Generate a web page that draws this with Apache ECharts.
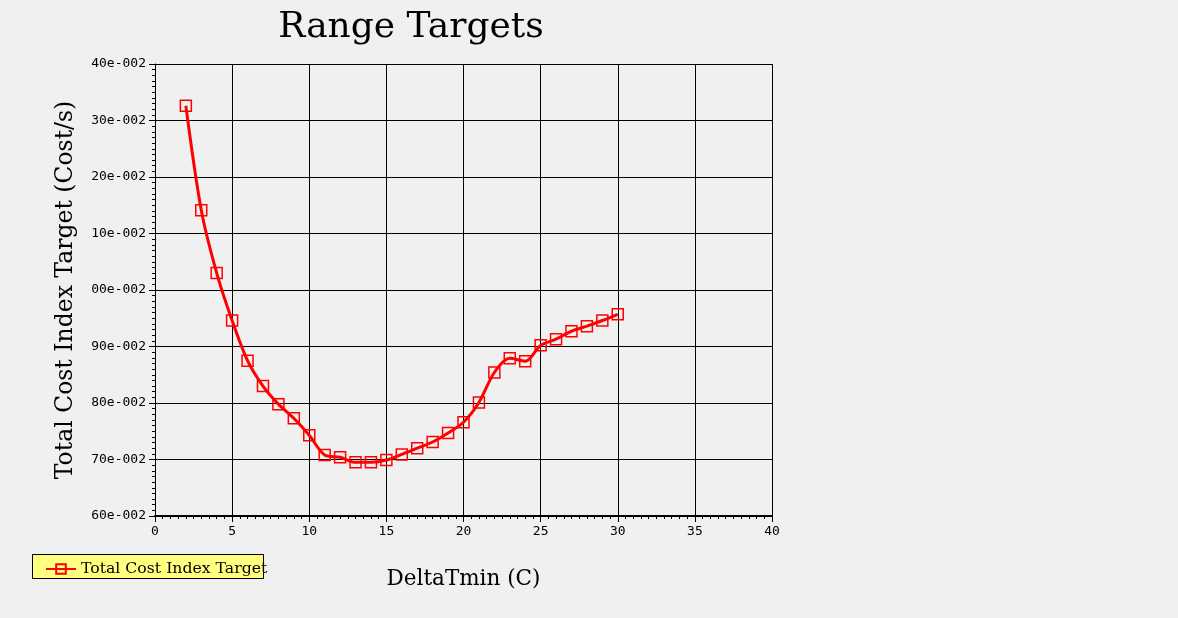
<!DOCTYPE html>
<html>
<head>
<meta charset="utf-8">
<script src="https://cdn.jsdelivr.net/npm/echarts@6/dist/echarts.min.js"></script>
<style>
html,body{margin:0;padding:0;background:#f0f0f0;}
#chart{width:1178px;height:618px;}
</style>
</head>
<body>
<div id="chart"></div>
<script>
// DeltaTmin (C)
const deltaTmin = [2,3,4,5,6,7,8,9,10,11,12,13,14,15,16,17,18,19,20,21,22,23,24,25,26,27,28,29,30];
// Total Cost Index Target, in units of 1e-4 Cost/s
const totalCostIndexTarget = [232.6,214.1,203.0,194.6,187.5,183.0,179.8,177.3,174.3,170.8,170.4,169.5,169.5,169.9,170.9,172.0,173.1,174.7,176.6,180.1,185.4,187.9,187.4,190.2,191.3,192.7,193.6,194.6,195.7];
const xTicks = [0,5,10,15,20,25,30,35,40];
const yTicks = [160,170,180,190,200,210,220,230,240];

const serif = "'DejaVu Serif', 'Liberation Serif', serif";
const tickFont = "'DejaVu Sans Mono', monospace";

const chart = echarts.init(document.getElementById('chart'));
chart.setOption({
  backgroundColor: '#f0f0f0',
  animation: false,
  title: {
    text: 'Range Targets',
    left: 406, top: 5, textAlign: 'center',
    textStyle: {fontFamily: serif, fontSize: 36, fontWeight: 'normal', color: '#000'}
  },
  graphic: [{
    type: 'rect', left: 32, top: 554, z: 0,
    shape: {width: 231, height: 24},
    style: {fill: '#ffff80', stroke: '#000', lineWidth: 1}
  }],
  legend: {
    left: 40, top: 556, z: 10,
    itemWidth: 30, itemHeight: 12, itemGap: 10,
    textStyle: {fontFamily: serif, fontSize: 15.7, color: '#000'},
    data: ['Total Cost Index Target']
  },
  grid: {left: 155, top: 64, right: 406, bottom: 102, containLabel: false},
  xAxis: {
    type: 'value', min: xTicks[0], max: xTicks[xTicks.length-1], interval: 5,
    name: 'DeltaTmin (C)', nameLocation: 'middle', nameGap: 52,
    nameTextStyle: {fontFamily: serif, fontSize: 21.5, color: '#000'},
    axisLine: {show: true, onZero: false, lineStyle: {color: '#000', width: 2}},
    axisTick: {show: true, length: 6, lineStyle: {color: '#000'}},
    minorTick: {show: true, splitNumber: 10, length: 3, lineStyle: {color: '#000'}},
    splitLine: {show: true, lineStyle: {color: '#000', width: 1}},
    axisLabel: {fontFamily: tickFont, fontSize: 13, color: '#000', margin: 9}
  },
  yAxis: {
    type: 'value', min: yTicks[0], max: yTicks[yTicks.length-1], interval: 10,
    name: 'Total Cost Index Target (Cost/s)', nameLocation: 'middle', nameGap: 77, nameRotate: 90,
    nameTextStyle: {fontFamily: serif, fontSize: 23.5, color: '#000'},
    axisLine: {show: true, onZero: false, lineStyle: {color: '#000', width: 1}},
    axisTick: {show: true, length: 6, lineStyle: {color: '#000'}},
    minorTick: {show: true, splitNumber: 10, length: 3, lineStyle: {color: '#000'}},
    splitLine: {show: true, lineStyle: {color: '#000', width: 1}},
    axisLabel: {
      fontFamily: tickFont, fontSize: 13, color: '#000', margin: 9,
      formatter: function (v) { return (v/100).toFixed(2).slice(2) + 'e-002'; }
    }
  },
  series: [{
    name: 'Total Cost Index Target',
    type: 'line',
    data: deltaTmin.map((x, i) => [x, totalCostIndexTarget[i]]),
    smooth: 0.3,
    symbol: 'rect', symbolSize: 11,
    lineStyle: {color: '#ff0000', width: 3},
    itemStyle: {color: 'rgba(0,0,0,0)', borderColor: '#ff0000', borderWidth: 1.5},
    emphasis: {disabled: true}
  }]
});
</script>
</body>
</html>
